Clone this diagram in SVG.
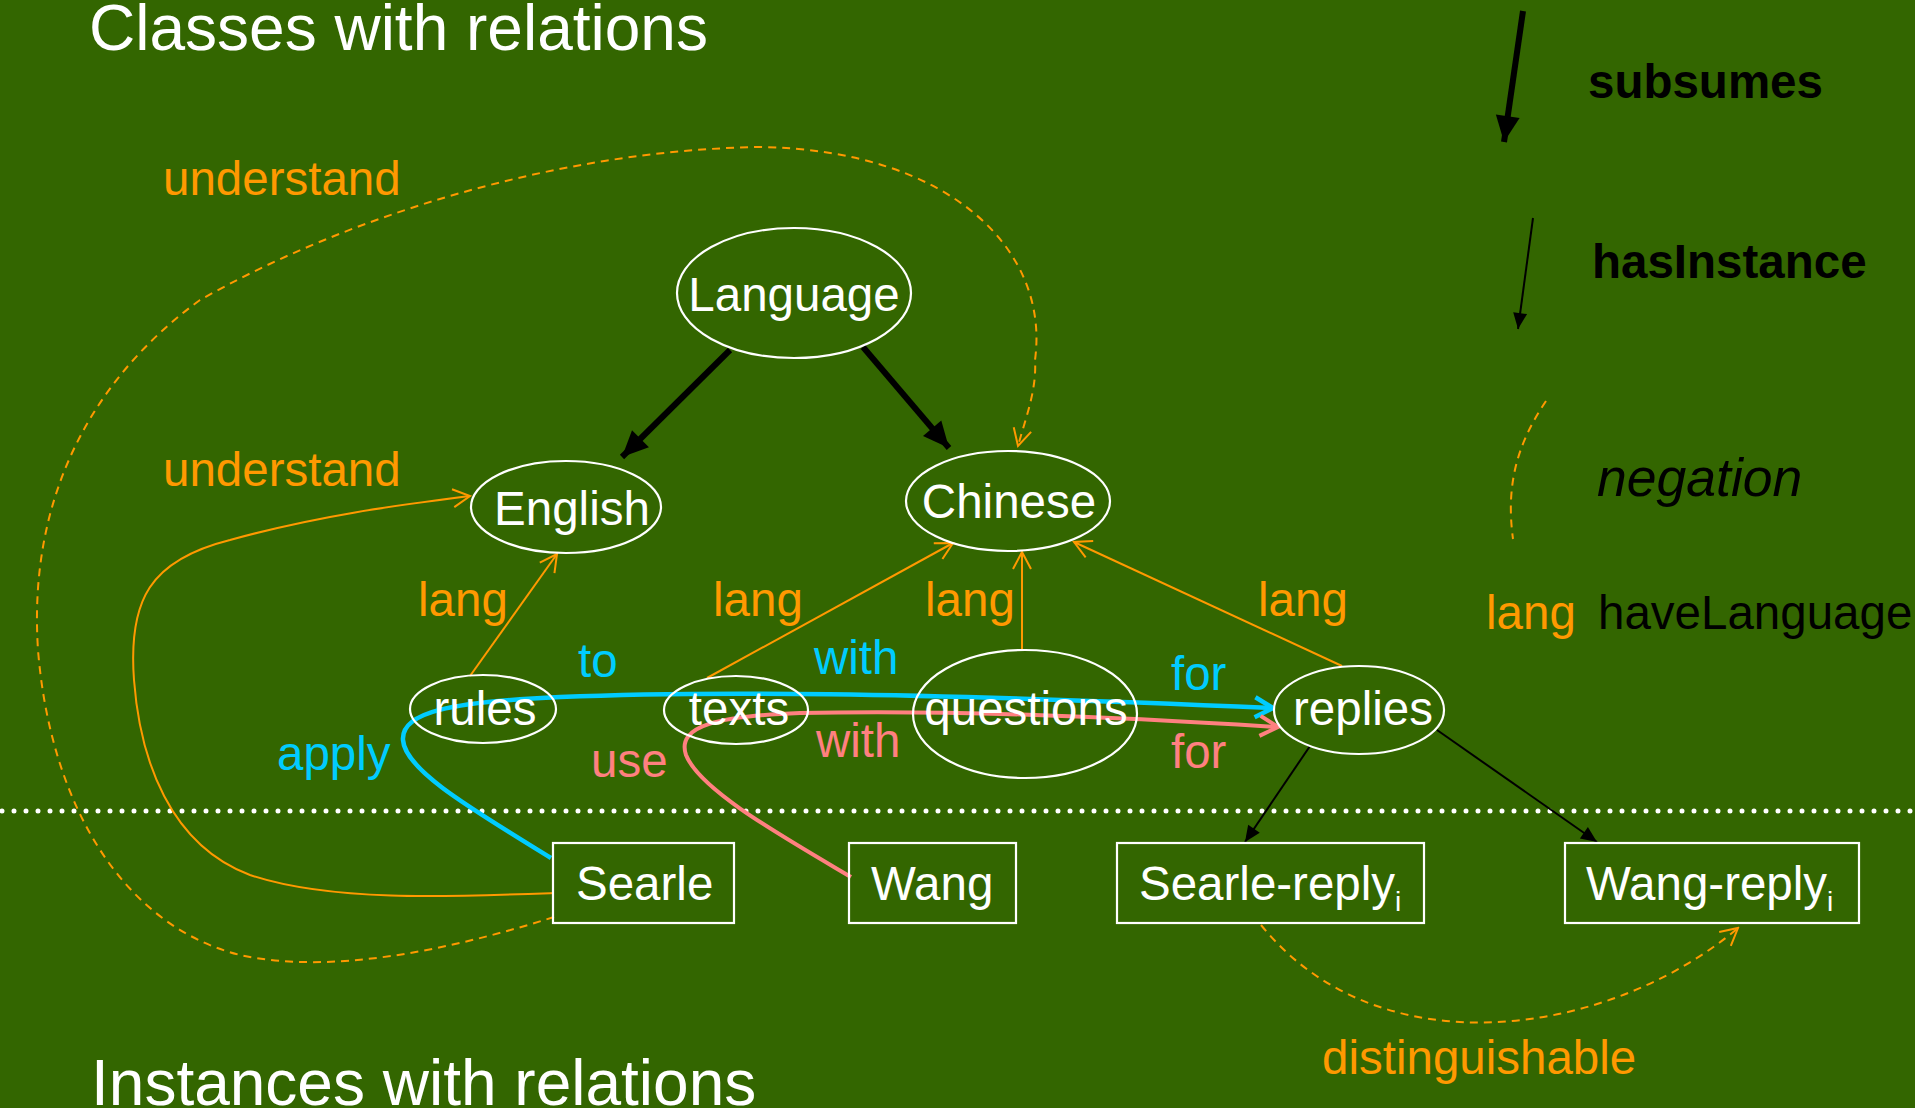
<svg xmlns="http://www.w3.org/2000/svg" width="1915" height="1108" viewBox="0 0 1915 1108">
<style>
text{font-family:"Liberation Sans",Arial,sans-serif;font-size:47.5px}
.w{fill:#fff}.o{fill:#FF9900}.b{fill:#00CCFF}.p{fill:#FF8080}.k{fill:#000}
.node{fill:none;stroke:#fff;stroke-width:2.2}
.mid{text-anchor:middle}
.title{font-size:64px;fill:#fff}
.neg{font-size:53.5px;font-style:italic}
.ol{fill:none;stroke:#FF9900;stroke-width:2}
.od{fill:none;stroke:#FF9900;stroke-width:2;stroke-dasharray:8 6}
.bl{fill:none;stroke:#00CCFF;stroke-width:4.5}
.pl{fill:none;stroke:#FF8080;stroke-width:4}
.kt{fill:none;stroke:#000;stroke-width:2}
.kk{fill:none;stroke:#000;stroke-width:6}
</style>
<defs>
<marker id="mo" markerUnits="userSpaceOnUse" viewBox="-20 -12 22 24" refX="0" refY="0" markerWidth="22" markerHeight="24" orient="auto"><path d="M-17,-9 L0,0 L-17,9" fill="none" stroke="#FF9900" stroke-width="2"/></marker>
<marker id="mb" markerUnits="userSpaceOnUse" viewBox="-22 -13 24 26" refX="0" refY="0" markerWidth="24" markerHeight="26" orient="auto"><path d="M-18,-10 L0,0 L-18,10" fill="none" stroke="#00CCFF" stroke-width="4.5"/></marker>
<marker id="mp" markerUnits="userSpaceOnUse" viewBox="-22 -13 24 26" refX="0" refY="0" markerWidth="24" markerHeight="26" orient="auto"><path d="M-18,-10 L0,0 L-18,10" fill="none" stroke="#FF8080" stroke-width="4"/></marker>
<marker id="mk" markerUnits="userSpaceOnUse" viewBox="-17 -8 18 16" refX="0" refY="0" markerWidth="18" markerHeight="16" orient="auto"><path d="M-16,-7 L0,0 L-16,7 Z" fill="#000"/></marker>
<marker id="mK" markerUnits="userSpaceOnUse" viewBox="-27 -13 28 26" refX="0" refY="0" markerWidth="28" markerHeight="26" orient="auto"><path d="M-26,-12 L0,0 L-26,12 Z" fill="#000"/></marker>
</defs>
<rect width="1915" height="1108" fill="#336600"/>
<text class="title" x="89" y="50">Classes with relations</text>
<text class="title" x="91" y="1105">Instances with relations</text>
<line x1="2" y1="811" x2="1915" y2="811" stroke="#fff" stroke-width="5" stroke-linecap="round" stroke-dasharray="0 12"/>

<g id="connectors">
<path class="kk" d="M730,350 L622,457" marker-end="url(#mK)"/>
<path class="kk" d="M863,347 L949,448" marker-end="url(#mK)"/>
<path class="od" d="M554,917 C450,950 330,975 240,955 C120,925 50,800 38,650 C28,500 90,380 200,300 C350,215 560,150 760,147 C950,150 1050,250 1035,360 C1037,390 1025,420 1018,446" marker-end="url(#mo)"/>
<path class="ol" d="M554,893 C450,897 330,902 250,875 C170,845 140,760 134,680 C128,600 150,560 230,540 C320,515 400,505 470,496" marker-end="url(#mo)"/>
<path class="ol" d="M470,676 L557,554" marker-end="url(#mo)"/>
<path class="ol" d="M707,678 L953,543" marker-end="url(#mo)"/>
<path class="ol" d="M1022,650 L1022,552" marker-end="url(#mo)"/>
<path class="ol" d="M1342,666 L1074,542" marker-end="url(#mo)"/>
<path class="bl" d="M551,858 C470,808 405,770 403,740 C401,712 450,702 560,697 C700,691 900,692 1273,708" marker-end="url(#mb)"/>
<path class="pl" d="M851,877 C780,835 700,790 686,755 C676,725 720,716 800,713 C950,710 1100,716 1278,727" marker-end="url(#mp)"/>
<path class="kt" d="M1310,746 L1245,842" marker-end="url(#mk)"/>
<path class="kt" d="M1437,730 L1597,842" marker-end="url(#mk)"/>
<path class="od" d="M1261,925 C1380,1072 1610,1036 1738,928" marker-end="url(#mo)"/>
</g>

<g id="legend">
<path class="kk" d="M1523,11 L1504,142" marker-end="url(#mK)"/>
<text class="k" x="1588" y="98" font-weight="bold">subsumes</text>
<path class="kt" d="M1533,218 L1518,329" marker-end="url(#mk)"/>
<text class="k" x="1592" y="278" font-weight="bold">hasInstance</text>
<path class="od" d="M1546,401 C1520,440 1505,480 1513,539"/>
<text class="k neg" x="1597" y="496">negation</text>
<text class="o" x="1486" y="629">lang</text>
<text class="k" x="1598" y="629">haveLanguage</text>
</g>

<g id="labels">
<text class="o" x="163" y="195">understand</text>
<text class="o" x="163" y="486">understand</text>
<text class="o" x="418" y="616">lang</text>
<text class="o" x="713" y="616">lang</text>
<text class="o" x="925" y="616">lang</text>
<text class="o" x="1258" y="616">lang</text>
<text class="b" x="578" y="677">to</text>
<text class="b" x="814" y="674">with</text>
<text class="b" x="1171" y="690">for</text>
<text class="b" x="277" y="770">apply</text>
<text class="p" x="591" y="777">use</text>
<text class="p" x="816" y="757">with</text>
<text class="p" x="1171" y="768">for</text>
<text class="o" x="1322" y="1074">distinguishable</text>
</g>

<g id="node-language"><ellipse class="node" cx="794" cy="293" rx="117" ry="65"/><text class="w mid" x="794" y="311">Language</text></g>
<g id="node-english"><ellipse class="node" cx="566" cy="507" rx="95" ry="46"/><text class="w mid" x="572" y="525">English</text></g>
<g id="node-chinese"><ellipse class="node" cx="1008" cy="501" rx="102" ry="50"/><text class="w mid" x="1009" y="518">Chinese</text></g>
<g id="node-rules"><ellipse class="node" cx="483" cy="709" rx="73" ry="34"/><text class="w mid" x="485" y="725">rules</text></g>
<g id="node-texts"><ellipse class="node" cx="736" cy="710" rx="72" ry="34"/><text class="w mid" x="739" y="725">texts</text></g>
<g id="node-questions"><ellipse class="node" cx="1025" cy="714" rx="112" ry="64"/><text class="w mid" x="1026" y="725">questions</text></g>
<g id="node-replies"><ellipse class="node" cx="1359" cy="710" rx="85" ry="44"/><text class="w mid" x="1363" y="725">replies</text></g>
<g id="node-searle"><rect class="node" x="553" y="843" width="181" height="80"/><text class="w" x="576" y="900">Searle</text></g>
<g id="node-wang"><rect class="node" x="849" y="843" width="167" height="80"/><text class="w" x="871" y="900">Wang</text></g>
<g id="node-searle-reply"><rect class="node" x="1117" y="843" width="307" height="80"/><text class="w" x="1139" y="900">Searle-reply<tspan font-size="28" dy="11">i</tspan></text></g>
<g id="node-wang-reply"><rect class="node" x="1565" y="843" width="294" height="80"/><text class="w" x="1586" y="900">Wang-reply<tspan font-size="28" dy="11">i</tspan></text></g>
</svg>
